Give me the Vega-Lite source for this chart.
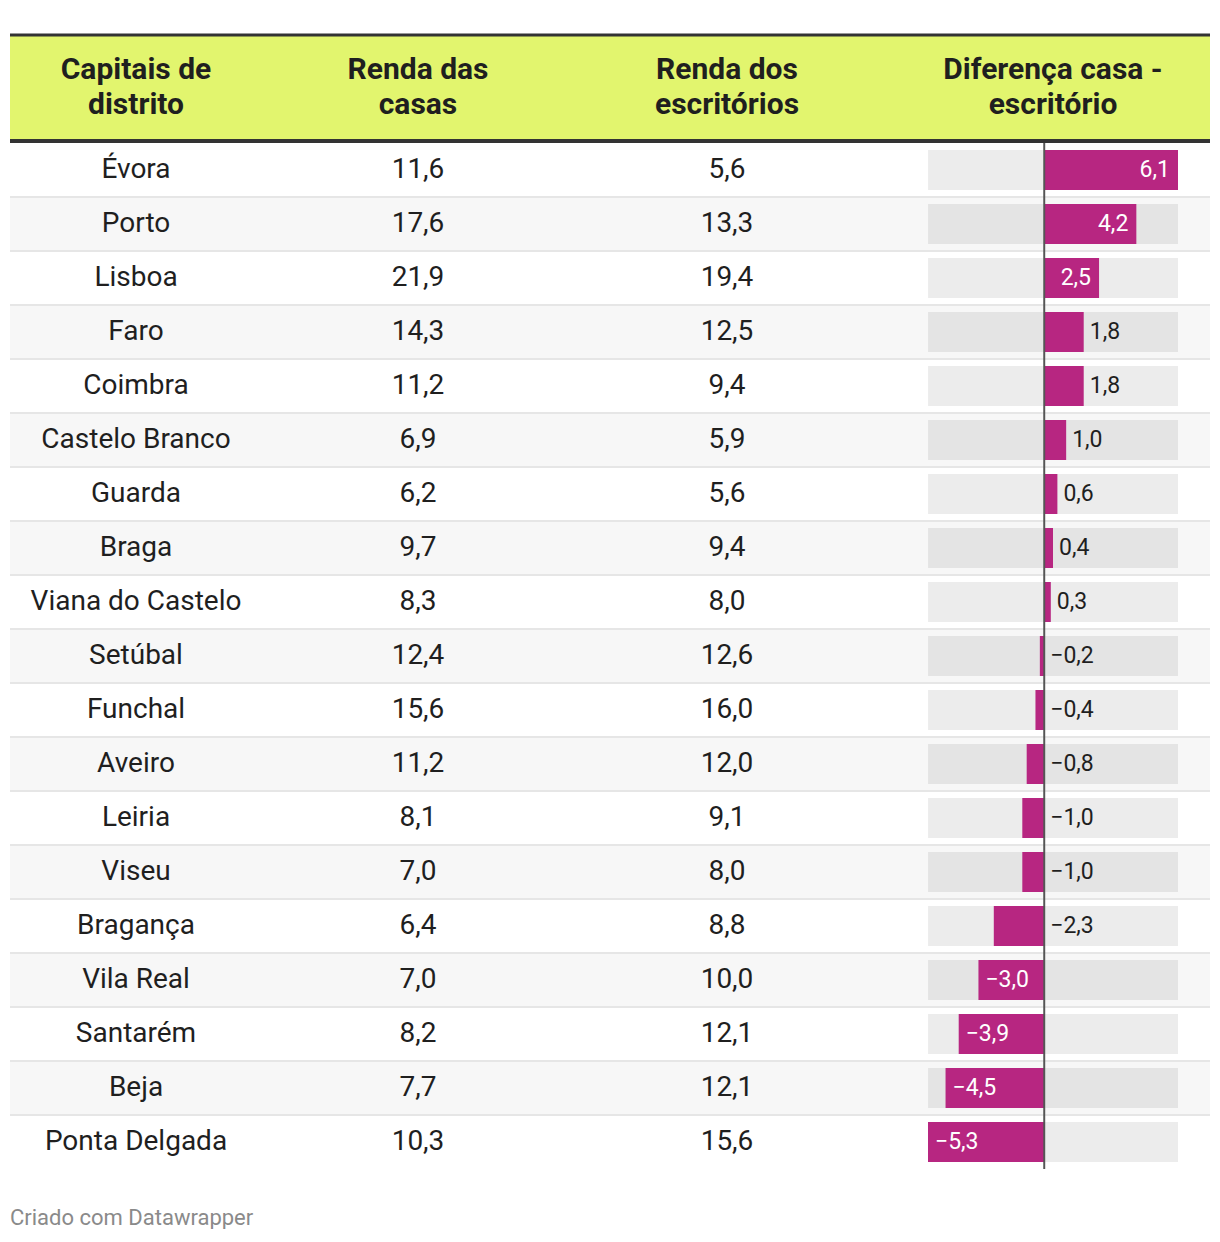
{
  "$schema": "https://vega.github.io/schema/vega-lite/v6.json",
  "padding": {"top": 33, "left": 8, "right": 10, "bottom": 0},
  "background": "#ffffff",
  "spacing": 0,
  "bounds": "flush",
  "title": {"text": "Criado com Datawrapper", "orient": "bottom", "anchor": "start", "fontSize": 22, "font": "Roboto", "fontWeight": "normal", "color": "#8a8a8a", "offset": 39, "dx": 2},
  "config": {
    "view": {"stroke": null},
    "locale": {"number": {"decimal": ",", "thousands": ".", "grouping": [3], "currency": ["", " €"]}},
    "text": {"font": "Roboto"}
  },
  "datasets": {
    "rows": [
      {"row": "Évora", "casas": 11.6, "escr": 5.6, "diff": 6.1},
      {"row": "Porto", "casas": 17.6, "escr": 13.3, "diff": 4.2},
      {"row": "Lisboa", "casas": 21.9, "escr": 19.4, "diff": 2.5},
      {"row": "Faro", "casas": 14.3, "escr": 12.5, "diff": 1.8},
      {"row": "Coimbra", "casas": 11.2, "escr": 9.4, "diff": 1.8},
      {"row": "Castelo Branco", "casas": 6.9, "escr": 5.9, "diff": 1.0},
      {"row": "Guarda", "casas": 6.2, "escr": 5.6, "diff": 0.6},
      {"row": "Braga", "casas": 9.7, "escr": 9.4, "diff": 0.4},
      {"row": "Viana do Castelo", "casas": 8.3, "escr": 8.0, "diff": 0.3},
      {"row": "Setúbal", "casas": 12.4, "escr": 12.6, "diff": -0.2},
      {"row": "Funchal", "casas": 15.6, "escr": 16.0, "diff": -0.4},
      {"row": "Aveiro", "casas": 11.2, "escr": 12.0, "diff": -0.8},
      {"row": "Leiria", "casas": 8.1, "escr": 9.1, "diff": -1.0},
      {"row": "Viseu", "casas": 7.0, "escr": 8.0, "diff": -1.0},
      {"row": "Bragança", "casas": 6.4, "escr": 8.8, "diff": -2.3},
      {"row": "Vila Real", "casas": 7.0, "escr": 10.0, "diff": -3.0},
      {"row": "Santarém", "casas": 8.2, "escr": 12.1, "diff": -3.9},
      {"row": "Beja", "casas": 7.7, "escr": 12.1, "diff": -4.5},
      {"row": "Ponta Delgada", "casas": 10.3, "escr": 15.6, "diff": -5.3}
    ],
    "head": [{"row": "h1"}, {"row": "h2"}],
    "titles": [
      {"row": "h1", "col": "a", "title": "Capitais de\ndistrito"},
      {"row": "h1", "col": "b", "title": "Renda das\ncasas"},
      {"row": "h1", "col": "c", "title": "Renda dos\nescritórios"},
      {"row": "h1", "col": "d", "title": "Diferença casa -\nescritório"}
    ]
  },
  "hconcat": [
    {
      "width": 252, "height": 1134,
      "layer": [
        {"data": {"name": "head"}, "mark": {"type": "rect", "color": "#e2f56e"},
         "encoding": {"y": {"field": "row", "type": "nominal", "sort": null, "axis": null, "scale": {"domain": ["h1","h2","Évora","Porto","Lisboa","Faro","Coimbra","Castelo Branco","Guarda","Braga","Viana do Castelo","Setúbal","Funchal","Aveiro","Leiria","Viseu","Bragança","Vila Real","Santarém","Beja","Ponta Delgada"], "paddingInner": 0, "paddingOuter": 0}}}},
        {"data": {"name": "rows"}, "transform": [{"window": [{"op": "row_number", "as": "i"}]}, {"filter": "datum.i % 2 == 0"}],
         "mark": {"type": "rect", "color": "#f7f7f7"},
         "encoding": {"y": {"field": "row", "type": "nominal", "axis": null}}},
        {"data": {"name": "rows"}, "transform": [{"window": [{"op": "row_number", "as": "i"}]}, {"filter": "datum.i < 19"}],
         "mark": {"type": "rule", "color": "#e6e6e6", "strokeWidth": 2},
         "encoding": {"y": {"field": "row", "type": "nominal", "axis": null, "bandPosition": 1}}},
        {"data": {"name": "head"}, "transform": [{"filter": "datum.row == 'h1'"}],
         "mark": {"type": "rule", "color": "#333333", "strokeWidth": 3},
         "encoding": {"y": {"field": "row", "type": "nominal", "axis": null, "bandPosition": 0}}},
        {"data": {"name": "head"}, "transform": [{"filter": "datum.row == 'h2'"}],
         "mark": {"type": "rule", "color": "#333333", "strokeWidth": 4, "yOffset": -2},
         "encoding": {"y": {"field": "row", "type": "nominal", "axis": null, "bandPosition": 1}}},
        {"data": {"name": "titles"}, "transform": [{"filter": "datum.col == 'a'"}],
         "mark": {"type": "text", "fontSize": 30, "fontWeight": "bold", "lineBreak": "\n", "lineHeight": 35, "color": "#1f1f1f", "baseline": "middle", "dy": -19},
         "encoding": {"y": {"field": "row", "type": "nominal", "axis": null, "bandPosition": 1}, "text": {"field": "title"}}},
        {"data": {"name": "rows"},
         "mark": {"type": "text", "fontSize": 28, "color": "#1f1f1f", "baseline": "middle"},
         "encoding": {"y": {"field": "row", "type": "nominal", "axis": null}, "text": {"field": "row"}}}
      ]
    },
    {
      "width": 312, "height": 1134,
      "layer": [
        {"data": {"name": "head"}, "mark": {"type": "rect", "color": "#e2f56e"},
         "encoding": {"y": {"field": "row", "type": "nominal", "sort": null, "axis": null, "scale": {"domain": ["h1","h2","Évora","Porto","Lisboa","Faro","Coimbra","Castelo Branco","Guarda","Braga","Viana do Castelo","Setúbal","Funchal","Aveiro","Leiria","Viseu","Bragança","Vila Real","Santarém","Beja","Ponta Delgada"], "paddingInner": 0, "paddingOuter": 0}}}},
        {"data": {"name": "rows"}, "transform": [{"window": [{"op": "row_number", "as": "i"}]}, {"filter": "datum.i % 2 == 0"}],
         "mark": {"type": "rect", "color": "#f7f7f7"},
         "encoding": {"y": {"field": "row", "type": "nominal", "axis": null}}},
        {"data": {"name": "rows"}, "transform": [{"window": [{"op": "row_number", "as": "i"}]}, {"filter": "datum.i < 19"}],
         "mark": {"type": "rule", "color": "#e6e6e6", "strokeWidth": 2},
         "encoding": {"y": {"field": "row", "type": "nominal", "axis": null, "bandPosition": 1}}},
        {"data": {"name": "head"}, "transform": [{"filter": "datum.row == 'h1'"}],
         "mark": {"type": "rule", "color": "#333333", "strokeWidth": 3},
         "encoding": {"y": {"field": "row", "type": "nominal", "axis": null, "bandPosition": 0}}},
        {"data": {"name": "head"}, "transform": [{"filter": "datum.row == 'h2'"}],
         "mark": {"type": "rule", "color": "#333333", "strokeWidth": 4, "yOffset": -2},
         "encoding": {"y": {"field": "row", "type": "nominal", "axis": null, "bandPosition": 1}}},
        {"data": {"name": "titles"}, "transform": [{"filter": "datum.col == 'b'"}],
         "mark": {"type": "text", "fontSize": 30, "fontWeight": "bold", "lineBreak": "\n", "lineHeight": 35, "color": "#1f1f1f", "baseline": "middle", "dy": -19},
         "encoding": {"y": {"field": "row", "type": "nominal", "axis": null, "bandPosition": 1}, "text": {"field": "title"}}},
        {"data": {"name": "rows"},
         "mark": {"type": "text", "fontSize": 28, "color": "#1f1f1f", "baseline": "middle"},
         "encoding": {"y": {"field": "row", "type": "nominal", "axis": null}, "text": {"field": "casas", "type": "quantitative", "format": ".1f"}}}
      ]
    },
    {
      "width": 306, "height": 1134,
      "layer": [
        {"data": {"name": "head"}, "mark": {"type": "rect", "color": "#e2f56e"},
         "encoding": {"y": {"field": "row", "type": "nominal", "sort": null, "axis": null, "scale": {"domain": ["h1","h2","Évora","Porto","Lisboa","Faro","Coimbra","Castelo Branco","Guarda","Braga","Viana do Castelo","Setúbal","Funchal","Aveiro","Leiria","Viseu","Bragança","Vila Real","Santarém","Beja","Ponta Delgada"], "paddingInner": 0, "paddingOuter": 0}}}},
        {"data": {"name": "rows"}, "transform": [{"window": [{"op": "row_number", "as": "i"}]}, {"filter": "datum.i % 2 == 0"}],
         "mark": {"type": "rect", "color": "#f7f7f7"},
         "encoding": {"y": {"field": "row", "type": "nominal", "axis": null}}},
        {"data": {"name": "rows"}, "transform": [{"window": [{"op": "row_number", "as": "i"}]}, {"filter": "datum.i < 19"}],
         "mark": {"type": "rule", "color": "#e6e6e6", "strokeWidth": 2},
         "encoding": {"y": {"field": "row", "type": "nominal", "axis": null, "bandPosition": 1}}},
        {"data": {"name": "head"}, "transform": [{"filter": "datum.row == 'h1'"}],
         "mark": {"type": "rule", "color": "#333333", "strokeWidth": 3},
         "encoding": {"y": {"field": "row", "type": "nominal", "axis": null, "bandPosition": 0}}},
        {"data": {"name": "head"}, "transform": [{"filter": "datum.row == 'h2'"}],
         "mark": {"type": "rule", "color": "#333333", "strokeWidth": 4, "yOffset": -2},
         "encoding": {"y": {"field": "row", "type": "nominal", "axis": null, "bandPosition": 1}}},
        {"data": {"name": "titles"}, "transform": [{"filter": "datum.col == 'c'"}],
         "mark": {"type": "text", "fontSize": 30, "fontWeight": "bold", "lineBreak": "\n", "lineHeight": 35, "color": "#1f1f1f", "baseline": "middle", "dy": -19},
         "encoding": {"y": {"field": "row", "type": "nominal", "axis": null, "bandPosition": 1}, "text": {"field": "title"}}},
        {"data": {"name": "rows"},
         "mark": {"type": "text", "fontSize": 28, "color": "#1f1f1f", "baseline": "middle"},
         "encoding": {"y": {"field": "row", "type": "nominal", "axis": null}, "text": {"field": "escr", "type": "quantitative", "format": ".1f"}}}
      ]
    },
    {
      "width": 330, "height": 1134,
      "layer": [
        {"data": {"name": "head"}, "mark": {"type": "rect", "color": "#e2f56e"},
         "encoding": {
           "y": {"field": "row", "type": "nominal", "sort": null, "axis": null, "scale": {"domain": ["h1","h2","Évora","Porto","Lisboa","Faro","Coimbra","Castelo Branco","Guarda","Braga","Viana do Castelo","Setúbal","Funchal","Aveiro","Leiria","Viseu","Bragança","Vila Real","Santarém","Beja","Ponta Delgada"], "paddingInner": 0, "paddingOuter": 0}},
           "x": {"datum": -7.489, "type": "quantitative", "axis": null, "scale": {"domain": [-7.489, 7.559], "nice": false, "zero": false}},
           "x2": {"datum": 7.559}}},
        {"data": {"name": "rows"}, "transform": [{"window": [{"op": "row_number", "as": "i"}]}, {"filter": "datum.i % 2 == 0"}],
         "mark": {"type": "rect", "color": "#f7f7f7"},
         "encoding": {"y": {"field": "row", "type": "nominal", "axis": null},
           "x": {"datum": -7.489, "type": "quantitative", "axis": null}, "x2": {"datum": 7.559}}},
        {"data": {"name": "rows"}, "transform": [{"window": [{"op": "row_number", "as": "i"}]}, {"filter": "datum.i < 19"}],
         "mark": {"type": "rule", "color": "#e6e6e6", "strokeWidth": 2},
         "encoding": {"y": {"field": "row", "type": "nominal", "axis": null, "bandPosition": 1},
           "x": {"datum": -7.489, "type": "quantitative", "axis": null}, "x2": {"datum": 7.559}}},
        {"data": {"name": "head"}, "transform": [{"filter": "datum.row == 'h1'"}],
         "mark": {"type": "rule", "color": "#333333", "strokeWidth": 3},
         "encoding": {"y": {"field": "row", "type": "nominal", "axis": null, "bandPosition": 0},
           "x": {"datum": -7.489, "type": "quantitative", "axis": null}, "x2": {"datum": 7.559}}},
        {"data": {"name": "head"}, "transform": [{"filter": "datum.row == 'h2'"}],
         "mark": {"type": "rule", "color": "#333333", "strokeWidth": 4, "yOffset": -2},
         "encoding": {"y": {"field": "row", "type": "nominal", "axis": null, "bandPosition": 1},
           "x": {"datum": -7.489, "type": "quantitative", "axis": null}, "x2": {"datum": 7.559}}},
        {"data": {"name": "titles"}, "transform": [{"filter": "datum.col == 'd'"}],
         "mark": {"type": "text", "fontSize": 30, "fontWeight": "bold", "lineBreak": "\n", "lineHeight": 35, "color": "#1f1f1f", "baseline": "middle", "dy": -19},
         "encoding": {"y": {"field": "row", "type": "nominal", "axis": null, "bandPosition": 1},
           "x": {"datum": 0.4, "type": "quantitative", "axis": null}, "text": {"field": "title"}}},
        {"data": {"name": "rows"},
         "mark": {"type": "bar", "color": "#000000", "opacity": 0.075, "size": 40},
         "encoding": {"y": {"field": "row", "type": "nominal", "axis": null},
           "x": {"datum": -5.3, "type": "quantitative", "axis": null}, "x2": {"datum": 6.1}}},
        {"data": {"name": "rows"},
         "mark": {"type": "bar", "color": "#b72681", "size": 40},
         "encoding": {"y": {"field": "row", "type": "nominal", "axis": null},
           "x": {"field": "diff", "type": "quantitative", "axis": null}, "x2": {"datum": 0}}},
        {"data": {"name": "rows"},
         "mark": {"type": "rect", "color": "#555555"},
         "encoding": {"y": {"field": "row", "type": "nominal", "axis": null},
           "x": {"datum": -0.045, "type": "quantitative", "axis": null}, "x2": {"datum": 0.045}}},
        {"data": {"name": "rows"}, "transform": [{"filter": "datum.diff >= 2"}],
         "mark": {"type": "text", "fontSize": 23, "color": "#ffffff", "align": "right", "baseline": "middle", "dx": -8},
         "encoding": {"y": {"field": "row", "type": "nominal", "axis": null},
           "x": {"field": "diff", "type": "quantitative", "axis": null},
           "text": {"field": "diff", "type": "quantitative", "format": ".1f"}}},
        {"data": {"name": "rows"}, "transform": [{"filter": "datum.diff > 0 && datum.diff < 2"}],
         "mark": {"type": "text", "fontSize": 23, "color": "#1f1f1f", "align": "left", "baseline": "middle", "dx": 6},
         "encoding": {"y": {"field": "row", "type": "nominal", "axis": null},
           "x": {"field": "diff", "type": "quantitative", "axis": null},
           "text": {"field": "diff", "type": "quantitative", "format": ".1f"}}},
        {"data": {"name": "rows"}, "transform": [{"filter": "datum.diff < 0 && datum.diff > -2.5"}],
         "mark": {"type": "text", "fontSize": 23, "color": "#1f1f1f", "align": "left", "baseline": "middle", "dx": 6},
         "encoding": {"y": {"field": "row", "type": "nominal", "axis": null},
           "x": {"datum": 0, "type": "quantitative", "axis": null},
           "text": {"field": "diff", "type": "quantitative", "format": ".1f"}}},
        {"data": {"name": "rows"}, "transform": [{"filter": "datum.diff <= -2.5"}],
         "mark": {"type": "text", "fontSize": 23, "color": "#ffffff", "align": "left", "baseline": "middle", "dx": 7},
         "encoding": {"y": {"field": "row", "type": "nominal", "axis": null},
           "x": {"field": "diff", "type": "quantitative", "axis": null},
           "text": {"field": "diff", "type": "quantitative", "format": ".1f"}}}
      ]
    }
  ]
}
